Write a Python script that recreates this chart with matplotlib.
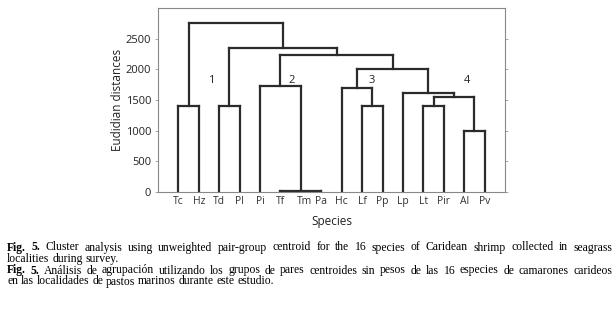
import matplotlib
matplotlib.use("Agg")
import matplotlib.pyplot as plt
import matplotlib.transforms as mtransforms

# hojas del dendrograma
species = ["Tc", "Hz", "Td", "Pl", "Pi", "Tf", "Tm", "Pa",
           "Hc", "Lf", "Pp", "Lp", "Lt", "Pir", "Al", "Pv"]

# uniones: hijos (indices) y distancia; los nodos nuevos siguen a las hojas
merge_children = [[5, 6, 7], [0, 1], [2, 3], [4, 16], [9, 10], [8, 20],
                  [12, 13], [14, 15], [22, 23], [11, 24], [21, 25],
                  [19, 26], [18, 27], [17, 28]]
merge_heights = [10, 1400, 1400, 1730, 1400, 1690, 1400, 1000, 1545,
                 1620, 2000, 2230, 2345, 2760]

group_names = ["1", "2", "3", "4"]
group_x = [2.62, 6.55, 10.48, 15.15]
group_y = [1810, 1810, 1810, 1810]

yticks = [0, 500, 1000, 1500, 2000, 2500]

cap_en = ("Fig. 5. Cluster analysis using unweighted pair-group centroid for the 16 species "
          "of Caridean shrimp collected in seagrass", "localities during survey.")
cap_es = ("Fig. 5. Análisis de agrupación utilizando los grupos de pares centroides sin pesos "
          "de las 16 especies de camarones carideos", "en las localidades de pastos marinos durante este estudio.")

plt.rcParams['font.family'] = ['Open Sans', 'DejaVu Sans']

fig = plt.figure(figsize=(6.15, 3.14), dpi=100)
ax = fig.add_axes([158/615, 1-192/314, (505-158)/615, (192-8)/314])

xs = [i + 1 for i in range(len(species))]
hs = [0] * len(species)
lc = "#2b2b2b"
for kids, h in zip(merge_children, merge_heights):
    kx = [xs[k] for k in kids]
    for k in kids:
        ax.plot([xs[k], xs[k]], [hs[k], h], color=lc, lw=1.6, solid_capstyle='projecting')
    ax.plot([min(kx), max(kx)], [h, h], color=lc, lw=1.6, solid_capstyle='projecting')
    xs.append((min(kx) + max(kx)) / 2)
    hs.append(h)

for t, x, y in zip(group_names, group_x, group_y):
    ax.text(x, y, t, ha='center', va='center', fontsize=8, color="#222222")

ax.set_xlim(0, 17)
ax.set_ylim(0, 3000)
ax.set_xticks(range(1, len(species) + 1))
ax.set_xticklabels(species, fontsize=7.5, color="#333333")
ax.set_yticks(yticks)
ax.set_yticklabels([str(v) for v in yticks], fontsize=8, color="#222222")
ax.tick_params(axis='x', length=0, pad=3)
ax.tick_params(axis='y', length=2, width=0.6, color="#999999", pad=3,
               right=True, direction='out')
for s in ax.spines.values():
    s.set_color("#888888")
    s.set_linewidth(0.8)
# Tm esta algo corrido a la derecha en el original
lab = ax.get_xticklabels()[6]
lab.set_transform(lab.get_transform() + mtransforms.ScaledTranslation(4/100, 0, fig.dpi_scale_trans))

ax.set_xlabel("Species", fontsize=8.5, color="#222222", labelpad=6)
ax.set_ylabel("Eudidian distances", fontsize=8.5, color="#222222", labelpad=1)

# pie de figura, palabra por palabra (justificado)
renderer = fig.canvas.get_renderer()
left_px, right_px = 7, 612
fs = 8.4


def line(text, base_px, justify, nbold=2):
    words = text.split(" ")
    arts = []
    for i, w in enumerate(words):
        a = fig.text(0, 0, w, fontsize=fs, family='Liberation Serif',
                     weight='bold' if i < nbold else 'normal', va='baseline', ha='left')
        arts.append(a)
    widths = [a.get_window_extent(renderer).width for a in arts]
    sp = fs * 0.25 * 100 / 72
    if justify and len(words) > 1:
        sp = (right_px - left_px - sum(widths)) / (len(words) - 1)
    x = left_px
    for a, w in zip(arts, widths):
        a.set_position((x / 615, 1 - base_px / 314))
        x += w + sp


line(cap_en[0], 250.5, True)
line(cap_en[1], 262, False, 0)
line(cap_es[0], 273.5, True)
line(cap_es[1], 284.5, False, 0)

fig.savefig("out.png", dpi=100)
